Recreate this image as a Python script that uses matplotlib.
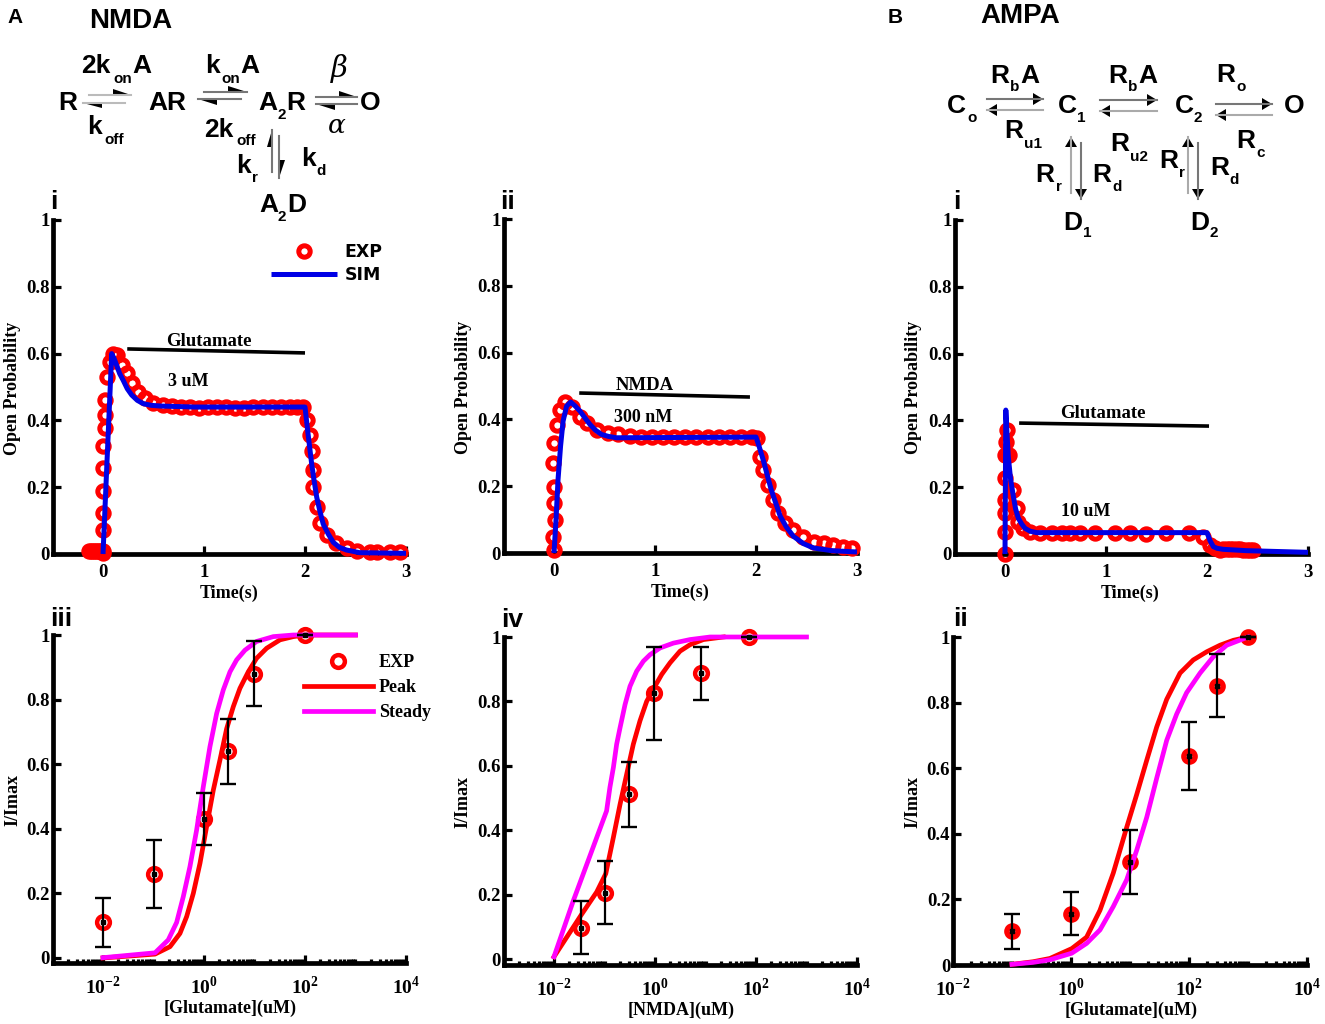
import numpy as np
import matplotlib
matplotlib.use("Agg")
import matplotlib.pyplot as plt
from matplotlib.lines import Line2D
from matplotlib.patches import Polygon
from matplotlib.ticker import LogLocator, NullFormatter
from matplotlib.transforms import Affine2D

# ---------- data ----------
nmda_glu_t = [-0.14,-0.12,-0.10,-0.08,-0.06,-0.04,-0.02,0.0,0.003,0.003,0.003,0.003,0.003,0.003,0.02,0.02,0.02,0.036,0.069,0.102,0.135,0.185,0.234,0.284,0.35,0.416,0.5,0.59,0.68,0.77,0.86,0.95,1.04,1.13,1.22,1.31,1.4,1.49,1.58,1.67,1.76,1.85,1.92,1.983,2.017,2.05,2.066,2.083,2.083,2.116,2.149,2.215,2.31,2.413,2.512,2.64,2.71,2.84,2.94]
nmda_glu_y = [0.01,0.01,0.01,0.01,0.01,0.01,0.01,0.01,0.003,0.072,0.124,0.19,0.257,0.323,0.376,0.416,0.461,0.53,0.575,0.60,0.596,0.566,0.541,0.511,0.486,0.466,0.451,0.445,0.442,0.44,0.44,0.437,0.44,0.44,0.44,0.437,0.437,0.44,0.44,0.44,0.44,0.44,0.44,0.44,0.401,0.356,0.307,0.252,0.202,0.142,0.092,0.057,0.032,0.018,0.008,0.005,0.005,0.005,0.005]
nmda_glu_sim_t = [0.0,0.086,0.11,0.135,0.165,0.2,0.24,0.284,0.34,0.4,0.48,0.57,0.9,2.0,2.015,2.03,2.05,2.066,2.09,2.116,2.15,2.18,2.23,2.28,2.34,2.41,2.54,3.0]
nmda_glu_sim_y = [0.0,0.6,0.585,0.565,0.54,0.52,0.495,0.476,0.46,0.45,0.445,0.443,0.44,0.44,0.40,0.36,0.31,0.27,0.22,0.17,0.125,0.09,0.06,0.035,0.02,0.012,0.004,0.002]

nmda_t = [0.0,-0.007,0.01,0.0,0.0,-0.007,0.0,0.026,0.059,0.109,0.175,0.257,0.33,0.422,0.538,0.637,0.75,0.86,0.97,1.08,1.19,1.30,1.41,1.52,1.63,1.74,1.85,1.96,2.007,2.04,2.07,2.12,2.17,2.22,2.29,2.37,2.47,2.57,2.67,2.765,2.86,2.95]
nmda_y = [0.009,0.049,0.099,0.149,0.197,0.268,0.328,0.383,0.428,0.452,0.438,0.408,0.388,0.368,0.358,0.355,0.35,0.347,0.346,0.346,0.346,0.346,0.348,0.346,0.346,0.346,0.346,0.346,0.345,0.288,0.249,0.204,0.159,0.119,0.089,0.069,0.049,0.033,0.029,0.024,0.017,0.014]
nmda_sim_t = [0.0,0.02,0.04,0.065,0.09,0.125,0.165,0.21,0.257,0.305,0.356,0.41,0.47,0.54,0.62,2.0,2.03,2.07,2.11,2.15,2.195,2.24,2.3,2.37,2.47,2.57,2.75,3.0]
nmda_sim_y = [0.0,0.1,0.22,0.32,0.395,0.44,0.452,0.44,0.425,0.405,0.385,0.368,0.355,0.349,0.345,0.347,0.32,0.28,0.235,0.19,0.15,0.11,0.078,0.05,0.028,0.015,0.007,0.003]

ampa_t = [0.0,0.0,0.0,0.0,0.0,0.0,0.01,0.023,0.043,0.083,0.122,0.132,0.182,0.248,0.347,0.462,0.561,0.644,0.743,0.891,1.089,1.238,1.393,1.591,1.825,1.964,2.03,2.08,2.129,2.16,2.195,2.23,2.261,2.30,2.33,2.36,2.393,2.43,2.46]
ampa_y = [0.0,0.067,0.122,0.162,0.227,0.296,0.335,0.371,0.296,0.192,0.137,0.096,0.077,0.067,0.062,0.062,0.062,0.062,0.062,0.062,0.062,0.062,0.06,0.062,0.062,0.05,0.027,0.018,0.012,0.014,0.014,0.014,0.014,0.014,0.014,0.013,0.012,0.012,0.012]
ampa_sim_t = [0.0,0.008,0.02,0.033,0.055,0.083,0.105,0.132,0.165,0.198,0.25,0.314,2.0,2.03,2.063,2.1,2.16,2.39,3.0]
ampa_sim_y = [0.0,0.431,0.36,0.29,0.225,0.172,0.135,0.107,0.09,0.077,0.068,0.064,0.064,0.04,0.022,0.017,0.014,0.01,0.005]

dose_glu_x = [0.01,0.1,1,3,10,100]
dose_glu_y = [0.11,0.26,0.43,0.64,0.88,1.0]
dose_glu_lo = [0.035,0.155,0.35,0.54,0.78,1.0]
dose_glu_hi = [0.185,0.365,0.51,0.74,0.98,1.0]
glu_peak_x = [0.01,0.107,0.212,0.334,0.453,0.614,0.832,1.127,1.53,2.07,2.81,3.8,5.15,7.53,11,17.4,32,58.7,100,1000]
glu_peak_y = [0.0,0.012,0.035,0.076,0.128,0.2,0.293,0.407,0.52,0.613,0.71,0.778,0.835,0.886,0.928,0.959,0.985,0.995,1.0,1.0]
glu_steady_x = [0.01,0.107,0.196,0.287,0.389,0.527,0.714,0.968,1.31,1.78,2.41,3.27,4.43,6.47,11,23.6,58.7,1000]
glu_steady_y = [0.001,0.016,0.056,0.11,0.19,0.283,0.396,0.53,0.654,0.757,0.83,0.886,0.923,0.953,0.98,0.995,1.0,1.0]

dose_nmda_x = [0.034,0.1,0.3,0.95,8.3,74]
dose_nmda_y = [0.095,0.205,0.512,0.825,0.888,1.0]
dose_nmda_lo = [0.015,0.11,0.41,0.68,0.805,1.0]
dose_nmda_hi = [0.18,0.305,0.612,0.97,0.97,1.0]
nmda_peak_x = [0.01,0.0343,0.07,0.106,0.15,0.203,0.275,0.372,0.505,0.684,0.957,1.36,1.99,3.13,4.93,9.06,22.6]
nmda_peak_y = [0.007,0.136,0.208,0.265,0.378,0.48,0.574,0.667,0.74,0.80,0.842,0.884,0.92,0.956,0.976,0.992,1.0]
nmda_steady_x = [0.01,0.024,0.11,0.128,0.15,0.174,0.203,0.255,0.32,0.434,0.589,0.796,1.26,2.31,4.93,12.3,1000]
nmda_steady_y = [0.007,0.18,0.46,0.533,0.595,0.667,0.718,0.79,0.847,0.894,0.925,0.945,0.966,0.981,0.992,1.0,1.0]

dose_ampa_x = [0.1,1,10,100,300,1000]
dose_ampa_y = [0.103,0.157,0.315,0.638,0.85,1.0]
dose_ampa_lo = [0.05,0.09,0.217,0.535,0.755,1.0]
dose_ampa_hi = [0.157,0.223,0.413,0.742,0.948,1.0]
ampa_peak_x = [0.1,0.229,0.44,1.03,1.84,3.1,5.2,8.8,13,19.2,28.4,41.9,70.5,118,200,336,566,1000]
ampa_peak_y = [0.002,0.01,0.02,0.05,0.085,0.167,0.28,0.42,0.52,0.624,0.726,0.81,0.89,0.93,0.955,0.975,0.99,1.0]
ampa_steady_x = [0.1,0.229,0.44,1.03,1.84,3.1,5.2,8.8,13,19.2,28.4,41.9,61.8,91,154,259,436,1000]
ampa_steady_y = [0.002,0.008,0.016,0.036,0.066,0.107,0.178,0.26,0.35,0.45,0.57,0.685,0.765,0.83,0.89,0.94,0.975,1.0]

prob_ticks = [0,0.2,0.4,0.6,0.8,1]
prob_labels = ["0","0.2","0.4","0.6","0.8","1"]
time_ticks = [0,1,2,3]
log_ticks = [1e-2,1,1e2,1e4]
log_labels = [r"$\mathbf{10}^{\mathbf{-2}}$", r"$\mathbf{10}^{\mathbf{0}}$", r"$\mathbf{10}^{\mathbf{2}}$", r"$\mathbf{10}^{\mathbf{4}}$"]

# ---------- setup ----------
W, H = 1325, 1024
plt.rcParams["mathtext.fontset"] = "custom"
plt.rcParams["mathtext.bf"] = "Liberation Serif:bold"
plt.rcParams["mathtext.rm"] = "Liberation Serif:bold"
plt.rcParams["font.family"] = "Liberation Serif"
plt.rcParams["font.weight"] = "bold"
fig = plt.figure(figsize=(W/100, H/100), dpi=100)
pxT = Affine2D().scale(1/W, -1/H).translate(0, 1) + fig.transFigure
RED, MAG, BLUE = "#ff0000", "#ff00ff", "#0000e6"


def make_axes(l, r, t, b):
    ax = fig.add_axes([l/W, 1-b/H, (r-l)/W, (b-t)/H])
    ax.patch.set_alpha(0)
    for s in ("top", "right"):
        ax.spines[s].set_visible(False)
    for s in ("left", "bottom"):
        ax.spines[s].set_linewidth(3.4)
    ax.tick_params(which="major", direction="in", length=6, width=2.3, labelsize=13.5, pad=2)
    ax.tick_params(axis="x", which="major", pad=7)
    ax.set_yticks(prob_ticks, prob_labels)
    return ax


def labels(ax, xl, xpos, yl, ypos):
    ax.set_xlabel(xl, fontsize=13, fontweight="bold")
    ax.xaxis.set_label_coords(xpos[0], xpos[1], transform=pxT)
    ax.xaxis.label.set_va("center")
    ax.set_ylabel(yl, fontsize=13, fontweight="bold")
    ax.yaxis.set_label_coords(ypos[0], ypos[1], transform=pxT)
    ax.yaxis.label.set_va("center")


def time_panel(rect, t, y, st, sy, bar_t, bar_y, stim, stim_pos, conc, conc_pos, xlab, ylab):
    ax = make_axes(*rect)
    ax.set_xlim(-0.5, 3.0)
    ax.set_ylim(0, 1)
    ax.set_xticks(time_ticks, [str(v) for v in time_ticks])
    ax.plot(t, y, "o", ms=8.2, mfc="none", mec=RED, mew=3.6, clip_on=False, zorder=3, label="EXP")
    ax.plot(st, sy, "-", color=BLUE, lw=3.6, clip_on=False, zorder=4, solid_capstyle="butt", label="SIM")
    ax.plot(bar_t, bar_y, "-", color="k", lw=2.6, solid_capstyle="butt", zorder=5)
    fig.text(*stim_pos, stim, transform=pxT, ha="center", va="center", fontsize=13.5, fontweight="bold")
    fig.text(*conc_pos, conc, transform=pxT, ha="center", va="center", fontsize=13, fontweight="bold")
    labels(ax, "Time(s)", xlab, "Open Probability", ylab)
    return ax


def dose_panel(rect, xlim, ybot, x, y, lo, hi, px_, py_, sx, sy, xl, xlab, ylab, ms=9.2, mew=3.2):
    ax = make_axes(*rect)
    ax.set_xscale("log")
    ax.set_xlim(*xlim)
    ax.set_ylim(ybot, 1)
    ax.set_xticks(log_ticks, log_labels)
    ax.xaxis.set_minor_locator(LogLocator(base=10, subs=np.arange(1, 10), numticks=40))
    ax.xaxis.set_minor_formatter(NullFormatter())
    ax.tick_params(axis="x", which="minor", direction="in", length=3, width=2.3)
    ax.tick_params(axis="x", which="major", labelsize=14, pad=9)
    ax.plot(x, y, "o", ms=ms, mfc="none", mec=RED, mew=mew, clip_on=False, zorder=3, label="EXP")
    ax.plot(px_, py_, "-", color=RED, lw=3.4, clip_on=False, zorder=4, label="Peak")
    ax.plot(sx, sy, "-", color=MAG, lw=3.4, clip_on=False, zorder=5, label="Steady")
    y_a = np.array(y)
    ax.errorbar(x, y, yerr=[y_a-np.array(lo), np.array(hi)-y_a], fmt="s", ms=3, color="k", ecolor="k",
                elinewidth=1.6, capsize=5.8, capthick=1.7, clip_on=False, zorder=6)
    labels(ax, xl, xlab, "I/Imax", ylab)
    return ax


# ---------- panels ----------
a1 = time_panel((52.5, 406, 220, 554), nmda_glu_t, nmda_glu_y, nmda_glu_sim_t, nmda_glu_sim_y,
                [0.24, 2.0], [0.614, 0.602], "Glutamate", (209, 342), "3 uM", (188, 381), (229, 593), (13, 388))
a2 = time_panel((503.5, 857, 219, 553), nmda_t, nmda_y, nmda_sim_t, nmda_sim_y,
                [0.25, 1.94], [0.479, 0.467], "NMDA", (645, 385), "300 nM", (643, 417), (680, 592), (463, 387))
b1 = time_panel((954.5, 1308, 220, 554), ampa_t, ampa_y, ampa_sim_t, ampa_sim_y,
                [0.14, 2.02], [0.392, 0.383], "Glutamate", (1103, 414), "10 uM", (1086, 511), (1130, 593), (913, 387))

a3 = dose_panel((52.5, 406, 635, 963), (1e-3, 1e4), -0.0155, dose_glu_x, dose_glu_y, dose_glu_lo, dose_glu_hi,
                glu_peak_x, glu_peak_y, glu_steady_x, glu_steady_y, "[Glutamate](uM)", (230, 1008), (13, 800))
a4 = dose_panel((503.5, 857, 637, 965), (1e-3, 1e4), -0.0186, dose_nmda_x, dose_nmda_y, dose_nmda_lo, dose_nmda_hi,
                nmda_peak_x, nmda_peak_y, nmda_steady_x, nmda_steady_y, "[NMDA](uM)", (681, 1010), (463, 802))
b2 = dose_panel((953, 1307, 637, 965), (1e-2, 1e4), 0, dose_ampa_x, dose_ampa_y, dose_ampa_lo, dose_ampa_hi,
                ampa_peak_x, ampa_peak_y, ampa_steady_x, ampa_steady_y, "[Glutamate](uM)", (1131, 1010), (913, 802),
                ms=8.0, mew=4.0)

# ---------- legends ----------
a1.legend(loc="upper left", bbox_to_anchor=(271, 243), bbox_transform=pxT, frameon=False, borderpad=0, borderaxespad=0,
          handlelength=3.8, handletextpad=0.42, labelspacing=0.3,
          prop={"family": "DejaVu Sans", "weight": "bold", "size": 12.5})
a3.legend(loc="upper left", bbox_to_anchor=(304, 654), bbox_transform=pxT, frameon=False, borderpad=0, borderaxespad=0,
          handlelength=3.8, handletextpad=0.33, labelspacing=0.45,
          prop={"family": "Liberation Serif", "weight": "bold", "size": 13})

# ---------- schemes ----------
SANS = "Liberation Sans"


def t(x, y, s, size=19):
    fig.text(x-1, y, s, transform=pxT, ha="left", va="baseline", family=SANS, fontweight="bold", fontsize=size)


def sub(x, y, s):
    fig.text(x, y, s, transform=pxT, ha="left", va="baseline", family=SANS, fontweight="bold", fontsize=11)


def shaft(x0, y0, x1, y1, color="#777777", lw=1.5):
    fig.add_artist(Line2D([x0, x1], [y0, y1], transform=pxT, color=color, lw=lw))


def head(pts):
    fig.add_artist(Polygon(pts, closed=True, transform=pxT, fc="k", ec="none"))


def harpoon(x0, y0, x1, y1, bx, by, color="#777777"):
    shaft(x0, y0, x1, y1, color)
    if x0 != x1:
        head([(x1, y1), (bx, by), (bx, y1)])
    else:
        head([(x1, y1), (bx, by), (x1, by)])


def arrow(x0, y0, x1, y1, color="#777777"):
    shaft(x0, y0, x1, y1, color)
    L, w = 10, 6
    if y0 == y1:
        d = 1 if x1 > x0 else -1
        head([(x1, y1), (x1-d*L, y1-w), (x1-d*L, y1+w)])
    else:
        d = 1 if y1 > y0 else -1
        head([(x1, y1), (x1-w, y1-d*L), (x1+w, y1-d*L)])


# panel A scheme
t(8, 23, "A", 15)
t(90, 28, "NMDA", 20)
t(82, 73, "2k"); sub(113, 83, "on"); t(133, 73, "A")
t(206, 73, "k"); sub(221, 83, "on"); t(241, 73, "A")
t(59, 110, "R"); t(149, 110, "AR"); t(259, 110, "A"); sub(277, 119, "2"); t(287, 110, "R"); t(361, 110, "O")
t(88, 134, "k"); sub(104, 144, "off")
t(205, 137, "2k"); sub(236, 145, "off")
t(237, 173, "k"); sub(252, 182, "r")
t(302, 166, "k"); sub(316, 175, "d")
t(260, 212, "A"); sub(278, 221, "2"); t(288, 212, "D")
fig.text(331, 77, "\u03b2", transform=pxT, family="DejaVu Serif", style="italic", fontsize=21, fontweight="normal")
fig.text(328, 133, "\u03b1", transform=pxT, family="DejaVu Serif", style="italic", fontsize=19, fontweight="normal")
harpoon(89, 95, 131, 95, 113, 89, "#bbbbbb"); harpoon(125, 103, 83, 103, 102, 108, "#bbbbbb")
harpoon(204, 92, 247, 92, 228, 86); harpoon(241, 99, 198, 99, 217, 105)
harpoon(316, 97, 357, 97, 339, 91); harpoon(357, 104, 316, 104, 335, 110)
harpoon(272, 172, 272, 130, 267, 147); harpoon(279, 136, 279, 178, 285, 160)

# panel B scheme
t(889, 23, "B", 15)
t(981, 23, "AMPA", 20)
t(948, 113, "C"); sub(967, 122, "o")
t(991, 83, "R"); sub(1010, 91, "b"); t(1021, 83, "A")
t(1059, 113, "C"); sub(1077, 122, "1")
t(1109, 83, "R"); sub(1128, 91, "b"); t(1139, 83, "A")
t(1176, 113, "C"); sub(1194, 122, "2")
t(1217, 82, "R"); sub(1236, 91, "o")
t(1285, 113, "O")
t(1005, 138, "R"); sub(1024, 148, "u1")
t(1111, 151, "R"); sub(1130, 161, "u2")
t(1237, 148, "R"); sub(1256, 157, "c")
t(1036, 182, "R"); sub(1056, 191, "r")
t(1093, 182, "R"); sub(1112, 191, "d")
t(1160, 168, "R"); sub(1179, 177, "r")
t(1211, 175, "R"); sub(1229, 184, "d")
t(1064, 230, "D"); sub(1083, 237, "1")
t(1191, 230, "D"); sub(1209, 237, "2")
arrow(987, 99, 1043, 99); arrow(1043, 110, 987, 110, "#aaaaaa")
arrow(1100, 100, 1157, 100); arrow(1157, 111, 1100, 111, "#aaaaaa")
arrow(1216, 104, 1272, 104); arrow(1272, 115, 1216, 115, "#aaaaaa")
arrow(1071, 193, 1071, 137, "#aaaaaa"); arrow(1081, 143, 1081, 199)
arrow(1188, 193, 1188, 137, "#aaaaaa"); arrow(1198, 143, 1198, 199)

# sub-panel numerals
t(51, 209, "i"); t(501, 209, "ii"); t(954, 209, "i")
t(51, 626, "iii"); t(502, 627, "iv"); t(954, 626, "ii")

fig.savefig("out.png", dpi=100)
